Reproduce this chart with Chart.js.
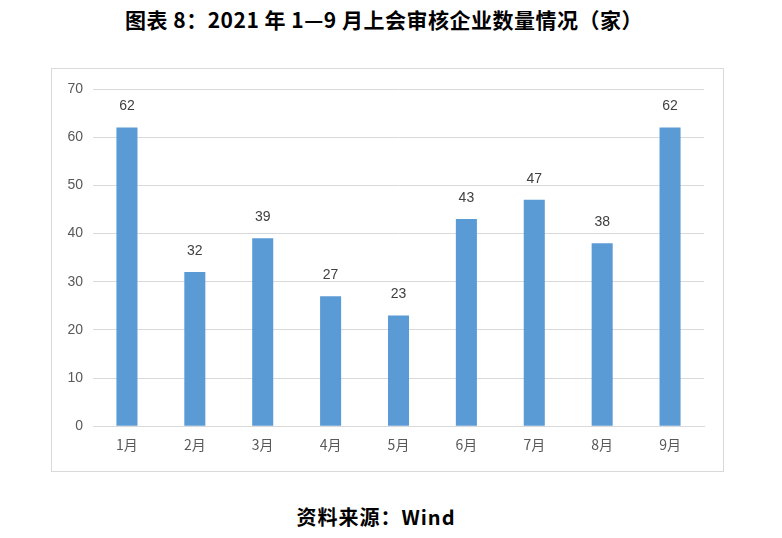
<!DOCTYPE html>
<html><head><meta charset="utf-8">
<script src="https://cdn.jsdelivr.net/npm/chart.js@4"></script>
<style>
html,body{margin:0;padding:0;background:#fff;width:782px;height:538px;overflow:hidden;}
#title{position:absolute;left:0;top:4px;width:768px;text-align:center;font-family:"Noto Sans CJK SC";font-weight:bold;font-size:21px;letter-spacing:0.5px;color:#000;}
#box{position:absolute;left:51px;top:68px;width:671px;height:402px;border:1px solid #d9d9d9;}
#src{position:absolute;left:0;top:502px;width:752px;text-align:center;font-family:"Noto Sans CJK SC";font-weight:bold;font-size:20px;letter-spacing:1px;color:#000;}
</style></head><body>
<div id="title">图表 8：2021 年 1—9 月上会审核企业数量情况（家）</div>
<div id="box"><canvas id="c" width="671" height="402"></canvas></div>
<div id="src">资料来源：Wind</div>
<script>
const categories = ["1月","2月","3月","4月","5月","6月","7月","8月","9月"];
const values = [62,32,39,27,23,43,47,38,62];
const yTicks = [0,10,20,30,40,50,60,70];

const labelPlugin = {
  id:'lbl',
  afterDatasetsDraw(chart){
    const ctx = chart.ctx;
    const meta = chart.getDatasetMeta(0);
    ctx.save();
    ctx.font = '14px "Liberation Sans", Arial';
    ctx.fillStyle = '#404040';
    ctx.textAlign = 'center';
    ctx.textBaseline = 'middle';
    meta.data.forEach((b,i)=>{ ctx.fillText(String(values[i]), b.x, b.y-21); });
    ctx.restore();
  }
};

new Chart(document.getElementById('c'),{
  type:'bar',
  data:{labels:categories,datasets:[{data:values,backgroundColor:'#5b9bd5',categoryPercentage:1,barPercentage:0.31}]},
  options:{
    responsive:false,animation:false,
    layout:{padding:{left:0,right:19,top:20,bottom:16}},
    plugins:{legend:{display:false},tooltip:{enabled:false}},
    scales:{
      x:{grid:{display:false},border:{color:'#d9d9d9'},
         ticks:{color:'#595959',font:{size:14,family:'"Noto Sans CJK SC"'},padding:2}},
      y:{min:0,max:70,afterBuildTicks(a){a.ticks=yTicks.map(v=>({value:v}));},
         afterFit(a){a.width=41;},
         grid:{color:'#d9d9d9',drawTicks:false},border:{display:false},
         ticks:{color:'#595959',font:{size:14,family:'"Liberation Sans"'},padding:10}}
    }
  },
  plugins:[labelPlugin]
});
</script>
</body></html>
